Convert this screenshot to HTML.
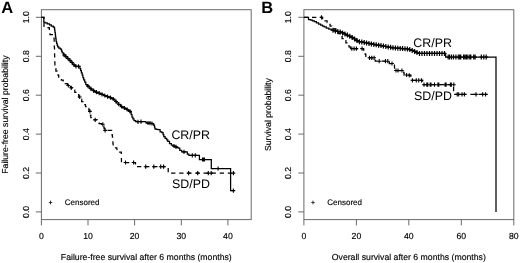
<!DOCTYPE html>
<html><head><meta charset="utf-8"><style>
html,body{margin:0;padding:0;background:#fff;width:520px;height:263px;overflow:hidden}
svg{display:block;will-change:transform}
text{font-family:"Liberation Sans",sans-serif;fill:#000;text-rendering:geometricPrecision}
.ax{font-size:8.7px;fill:#000;stroke:#000;stroke-width:0.15px}
.lb{font-size:12.4px}
.lg{font-size:8.0px;fill:#000;stroke:#000;stroke-width:0.15px}
.pl{font-size:16.5px;font-weight:bold}
</style></head><body>
<svg width="520" height="263" viewBox="0 0 520 263">
<rect x="41.4" y="9.7" width="209.8" height="209.9" fill="none" stroke="#6a6a6a" stroke-width="1.0"/>
<path d="M35.8 211.9H41.4" stroke="#6a6a6a" stroke-width="1.0"/>
<text transform="translate(28.9,211.9) rotate(-90)" text-anchor="middle" class="ax">0.0</text>
<path d="M35.8 173.0H41.4" stroke="#6a6a6a" stroke-width="1.0"/>
<text transform="translate(28.9,173.0) rotate(-90)" text-anchor="middle" class="ax">0.2</text>
<path d="M35.8 134.1H41.4" stroke="#6a6a6a" stroke-width="1.0"/>
<text transform="translate(28.9,134.1) rotate(-90)" text-anchor="middle" class="ax">0.4</text>
<path d="M35.8 95.2H41.4" stroke="#6a6a6a" stroke-width="1.0"/>
<text transform="translate(28.9,95.2) rotate(-90)" text-anchor="middle" class="ax">0.6</text>
<path d="M35.8 56.3H41.4" stroke="#6a6a6a" stroke-width="1.0"/>
<text transform="translate(28.9,56.3) rotate(-90)" text-anchor="middle" class="ax">0.8</text>
<path d="M35.8 17.3H41.4" stroke="#6a6a6a" stroke-width="1.0"/>
<text transform="translate(28.9,17.3) rotate(-90)" text-anchor="middle" class="ax">1.0</text>
<path d="M41.4 219.6V225.4" stroke="#6a6a6a" stroke-width="1.0"/>
<text x="41.4" y="238.9" text-anchor="middle" class="ax">0</text>
<path d="M88.0 219.6V225.4" stroke="#6a6a6a" stroke-width="1.0"/>
<text x="88.0" y="238.9" text-anchor="middle" class="ax">10</text>
<path d="M134.6 219.6V225.4" stroke="#6a6a6a" stroke-width="1.0"/>
<text x="134.6" y="238.9" text-anchor="middle" class="ax">20</text>
<path d="M181.3 219.6V225.4" stroke="#6a6a6a" stroke-width="1.0"/>
<text x="181.3" y="238.9" text-anchor="middle" class="ax">30</text>
<path d="M227.9 219.6V225.4" stroke="#6a6a6a" stroke-width="1.0"/>
<text x="227.9" y="238.9" text-anchor="middle" class="ax">40</text>
<text x="146.3" y="259.7" text-anchor="middle" class="ax">Failure-free survival after 6 months (months)</text>
<text transform="translate(8.3,114.6) rotate(-90)" text-anchor="middle" class="ax">Failure-free survival probability</text>
<text x="1.2" y="13.1" class="pl">A</text>
<polyline points="41.4,17.3 43.8,17.3 43.8,22.0 44.9,22.0 44.9,22.8 46.0,22.8 47.2,22.8 47.2,23.8 48.5,23.8 49.5,23.8 49.5,24.9 51.3,24.9 51.3,26.0 52.3,26.0 53.3,26.0 53.3,27.2 54.4,27.2 54.5,27.2 54.5,29.0 54.8,29.0 54.8,30.9 55.0,30.9 55.0,32.7 55.3,32.7 55.3,34.5 55.4,34.5 55.5,34.5 55.5,36.3 55.7,36.3 55.7,38.0 56.0,38.0 56.0,39.8 56.2,39.8 56.2,41.6 56.3,41.6 56.6,41.6 56.6,43.3 57.1,43.3 57.1,45.1 57.7,45.1 57.7,46.8 58.0,46.8 58.8,46.8 58.8,48.0 60.3,48.0 60.3,49.1 61.1,49.1 61.5,49.1 61.5,51.0 62.2,51.0 62.2,52.9 62.6,52.9 63.6,52.9 63.6,54.8 65.5,54.8 65.5,56.7 66.4,56.7 67.4,56.7 67.4,58.6 69.2,58.6 69.2,60.5 70.2,60.5 71.0,60.5 71.0,62.4 72.5,62.4 72.5,64.3 73.3,64.3 74.0,64.3 74.0,65.3 75.5,65.3 75.5,66.4 76.3,66.4 79.5,66.4 79.9,66.4 79.9,68.6 80.7,68.6 80.7,70.7 81.4,70.7 81.4,72.9 81.8,72.9 82.2,72.9 82.2,75.2 82.9,75.2 82.9,77.5 83.7,77.5 83.7,79.8 84.1,79.8 84.7,79.8 84.7,82.2 85.8,82.2 85.8,84.5 86.4,84.5 87.4,84.5 87.4,86.3 89.2,86.3 89.2,88.2 90.2,88.2 91.3,88.2 91.3,89.8 93.7,89.8 93.7,91.5 94.8,91.5 95.8,91.5 95.8,92.3 97.8,92.3 97.8,93.1 99.9,93.1 99.9,93.9 100.9,93.9 101.9,93.9 101.9,94.7 103.9,94.7 103.9,95.6 105.9,95.6 105.9,96.4 106.9,96.4 107.7,96.4 107.7,96.9 109.2,96.9 109.2,97.4 110.0,97.4 111.0,97.4 111.0,98.4 113.1,98.4 113.1,99.4 114.1,99.4 114.9,99.4 114.9,101.1 116.4,101.1 116.4,102.8 117.2,102.8 118.3,102.8 118.3,104.7 120.6,104.7 120.6,106.6 121.7,106.6 122.7,106.6 122.7,107.7 124.8,107.7 124.8,108.7 126.8,108.7 126.8,109.8 127.8,109.8 128.6,109.8 128.6,110.9 130.1,110.9 130.1,112.0 130.9,112.0 131.2,112.0 131.2,114.5 132.0,114.5 132.0,117.0 132.3,117.0 132.9,117.0 132.9,118.8 134.0,118.8 134.0,120.5 134.6,120.5 135.7,120.5 135.7,121.7 136.8,121.7 145.2,121.5 145.9,121.5 145.9,122.8 146.7,122.8 147.7,122.8 147.7,123.1 149.8,123.1 149.8,123.3 151.8,123.3 151.8,123.6 152.8,123.6 153.6,123.6 153.6,125.1 154.3,125.1 154.5,125.1 154.5,127.0 154.9,127.0 154.9,128.9 155.1,128.9 156.1,128.9 156.1,129.3 157.9,129.3 157.9,129.7 158.9,129.7 160.1,129.7 160.1,131.9 161.2,131.9 161.9,131.9 161.9,132.7 162.7,132.7 163.1,132.7 163.1,134.6 163.8,134.6 163.8,136.5 164.2,136.5 165.1,136.5 165.1,138.3 166.1,138.3 166.7,138.3 166.7,139.8 167.8,139.8 167.8,141.3 168.4,141.3 169.5,141.3 169.5,143.6 170.6,143.6 171.4,143.6 171.4,145.1 172.2,145.1 172.9,145.1 172.9,145.8 174.4,145.8 174.4,146.6 175.2,146.6 176.1,146.6 176.1,147.3 178.1,147.3 178.1,148.1 179.0,148.1 179.8,148.1 179.8,150.4 180.5,150.4 181.7,150.4 181.7,151.9 182.8,151.9 186.6,151.9 187.3,151.9 187.3,154.2 188.1,154.2 188.9,154.2 188.9,155.3 189.7,155.3 199.4,155.3 199.4,159.5 211.3,159.5 211.3,168.5 230.6,168.5 230.6,190.6 233.4,190.6" fill="none" stroke="#000" stroke-width="1.25" stroke-linejoin="miter"/>
<polyline points="41.4,17.3 44.0,17.3 44.0,27.5 48.6,27.7 49.3,27.7 49.3,29.4 50.0,29.4 50.0,34.5 53.8,34.5 54.2,40.0 54.2,40.0 54.2,42.0 54.3,42.0 54.3,44.1 54.3,44.1 54.3,46.1 54.4,46.1 54.4,48.1 54.5,48.1 54.5,50.2 54.5,50.2 54.5,52.2 54.6,52.2 54.6,54.2 54.6,54.2 54.6,56.3 54.7,56.3 54.7,58.3 54.7,58.3 54.7,60.4 54.8,60.4 54.8,62.4 54.9,62.4 54.9,64.4 54.9,64.4 54.9,66.5 55.0,66.5 55.0,68.5 55.0,68.5 55.9,68.5 55.9,71.1 56.8,71.1 57.2,71.1 57.2,73.1 58.0,73.1 58.0,75.2 58.7,75.2 58.7,77.2 59.1,77.2 59.9,77.2 59.9,78.7 61.4,78.7 61.4,80.2 62.2,80.2 63.2,80.2 63.2,82.0 65.2,82.0 65.2,83.7 67.3,83.7 67.3,85.5 68.3,85.5 69.0,85.5 69.0,86.7 70.5,86.7 70.5,87.8 71.3,87.8 72.5,87.8 72.5,90.1 74.8,90.1 74.8,92.4 75.9,92.4 76.9,92.4 76.9,94.7 78.8,94.7 78.8,97.0 79.7,97.0 80.3,97.0 80.3,99.2 81.7,99.2 81.7,101.5 82.3,101.5 82.9,101.5 82.9,103.0 84.0,103.0 84.0,104.6 84.6,104.6 85.5,104.6 85.5,106.5 87.5,106.5 87.5,108.4 88.4,108.4 88.8,108.4 88.8,109.9 89.5,109.9 89.5,111.4 89.9,111.4 90.1,111.4 90.1,113.3 90.4,113.3 90.4,115.2 90.6,115.2 90.8,115.2 90.8,117.5 91.2,117.5 91.2,119.8 91.4,119.8 97.3,119.8 97.8,122.8 99.0,122.8 99.0,123.5 101.5,123.5 101.5,124.3 102.8,124.3 103.2,124.3 103.2,126.2 103.9,126.2 103.9,128.1 104.3,128.1 104.7,128.1 104.7,130.4 105.1,130.4 111.5,130.4 111.7,130.4 111.7,132.7 112.1,132.7 112.1,135.0 112.3,135.0 112.4,135.0 112.4,137.0 112.6,137.0 112.6,139.0 112.7,139.0 112.7,141.0 112.9,141.0 112.9,143.0 113.0,143.0 113.4,147.8 116.8,147.8 117.2,152.0 121.3,152.0 121.5,162.5 135.5,162.5 135.5,166.7 168.2,166.7 168.2,173.1 233.4,173.1" fill="none" stroke="#000" stroke-width="1.25" stroke-dasharray="4.3 3.8"/>
<path d="M62.1 55.0h3.8M64.0 52.9v4.2M64.1 56.7h3.8M66.0 54.6v4.2M66.1 58.5h3.8M68.0 56.4v4.2M68.1 60.3h3.8M70.0 58.2v4.2M70.1 62.5h3.8M72.0 60.4v4.2M72.1 64.8h3.8M74.0 62.7v4.2M74.1 66.3h3.8M76.0 64.2v4.2M76.6 66.4h3.8M78.5 64.3v4.2M86.1 86.1h3.8M88.0 84.0v4.2M88.9 88.6h3.8M90.8 86.5v4.2M91.7 90.6h3.8M93.6 88.5v4.2M94.5 92.1h3.8M96.4 90.0v4.2M97.3 93.2h3.8M99.2 91.1v4.2M100.1 94.4h3.8M102.0 92.3v4.2M102.9 95.5h3.8M104.8 93.4v4.2M105.7 96.6h3.8M107.6 94.5v4.2M108.5 97.6h3.8M110.4 95.5v4.2M111.3 99.0h3.8M113.2 96.9v4.2M114.1 101.5h3.8M116.0 99.4v4.2M116.9 104.2h3.8M118.8 102.1v4.2M119.7 106.5h3.8M121.6 104.4v4.2M122.5 108.0h3.8M124.4 105.9v4.2M125.3 109.5h3.8M127.2 107.4v4.2M128.1 111.4h3.8M130.0 109.3v4.2M136.1 121.8h3.8M138.0 119.7v4.2M139.1 121.6h3.8M141.0 119.5v4.2M146.1 123.0h3.8M148.0 120.9v4.2M148.1 123.2h3.8M150.0 121.1v4.2M150.1 123.5h3.8M152.0 121.4v4.2M172.1 146.0h3.8M174.0 143.9v4.2M174.1 146.8h3.8M176.0 144.7v4.2M182.1 151.9h3.8M184.0 149.8v4.2M190.4 155.3h3.8M192.3 153.2v4.2M193.4 155.3h3.8M195.3 153.2v4.2M200.6 159.5h3.8M202.5 157.4v4.2M201.6 159.5h3.8M203.5 157.4v4.2M202.6 159.5h3.8M204.5 157.4v4.2M216.2 168.5h3.8M218.1 166.4v4.2M231.5 190.6h3.8M233.4 188.5v4.2" stroke="#000" stroke-width="1.1"/>
<path d="M66.4 85.5h3.8M68.3 83.4v4.2M69.4 87.8h3.8M71.3 85.7v4.2M77.8 97.0h3.8M79.7 94.9v4.2M88.0 111.4h3.8M89.9 109.3v4.2M93.3 119.8h3.8M95.2 117.7v4.2M100.9 124.3h3.8M102.8 122.2v4.2M103.2 130.4h3.8M105.1 128.3v4.2M123.6 162.5h3.8M125.5 160.4v4.2M131.7 162.5h3.8M133.6 160.4v4.2M143.8 166.7h3.8M145.7 164.6v4.2M151.9 166.7h3.8M153.8 164.6v4.2M158.8 166.7h3.8M160.7 164.6v4.2M161.7 166.7h3.8M163.6 164.6v4.2M186.7 173.1h3.8M188.6 171.0v4.2M195.8 173.1h3.8M197.7 171.0v4.2M206.4 173.1h3.8M208.3 171.0v4.2M209.3 173.1h3.8M211.2 171.0v4.2M231.5 173.1h3.8M233.4 171.0v4.2" stroke="#000" stroke-width="1.1"/>
<path d="M48.8 202.5h3.4M50.5 200.6v3.8" stroke="#222" stroke-width="0.9"/>
<text x="64.8" y="204.9" class="lg">Censored</text>
<text x="171.4" y="138.5" class="lb">CR/PR</text>
<text x="172.0" y="187.8" class="lb">SD/PD</text>
<rect x="303.9" y="9.7" width="209.9" height="209.9" fill="none" stroke="#6a6a6a" stroke-width="1.0"/>
<path d="M298.3 211.9H303.9" stroke="#6a6a6a" stroke-width="1.0"/>
<text transform="translate(291.4,211.9) rotate(-90)" text-anchor="middle" class="ax">0.0</text>
<path d="M298.3 173.0H303.9" stroke="#6a6a6a" stroke-width="1.0"/>
<text transform="translate(291.4,173.0) rotate(-90)" text-anchor="middle" class="ax">0.2</text>
<path d="M298.3 134.1H303.9" stroke="#6a6a6a" stroke-width="1.0"/>
<text transform="translate(291.4,134.1) rotate(-90)" text-anchor="middle" class="ax">0.4</text>
<path d="M298.3 95.2H303.9" stroke="#6a6a6a" stroke-width="1.0"/>
<text transform="translate(291.4,95.2) rotate(-90)" text-anchor="middle" class="ax">0.6</text>
<path d="M298.3 56.3H303.9" stroke="#6a6a6a" stroke-width="1.0"/>
<text transform="translate(291.4,56.3) rotate(-90)" text-anchor="middle" class="ax">0.8</text>
<path d="M298.3 17.3H303.9" stroke="#6a6a6a" stroke-width="1.0"/>
<text transform="translate(291.4,17.3) rotate(-90)" text-anchor="middle" class="ax">1.0</text>
<path d="M303.9 219.6V225.4" stroke="#6a6a6a" stroke-width="1.0"/>
<text x="303.9" y="238.9" text-anchor="middle" class="ax">0</text>
<path d="M356.4 219.6V225.4" stroke="#6a6a6a" stroke-width="1.0"/>
<text x="356.4" y="238.9" text-anchor="middle" class="ax">20</text>
<path d="M408.8 219.6V225.4" stroke="#6a6a6a" stroke-width="1.0"/>
<text x="408.8" y="238.9" text-anchor="middle" class="ax">40</text>
<path d="M461.3 219.6V225.4" stroke="#6a6a6a" stroke-width="1.0"/>
<text x="461.3" y="238.9" text-anchor="middle" class="ax">60</text>
<path d="M513.8 219.6V225.4" stroke="#6a6a6a" stroke-width="1.0"/>
<text x="513.8" y="238.9" text-anchor="middle" class="ax">80</text>
<text x="408.8" y="259.7" text-anchor="middle" class="ax">Overall survival after 6 months (months)</text>
<text transform="translate(270.8,114.6) rotate(-90)" text-anchor="middle" class="ax">Survival probability</text>
<text x="261.2" y="13.1" class="pl">B</text>
<polyline points="303.9,17.3 307.2,17.3 308.5,17.3 308.5,19.6 309.9,19.6 310.8,19.6 310.8,20.2 312.5,20.2 312.5,20.9 314.3,20.9 314.3,21.5 315.2,21.5 316.4,21.5 316.4,22.9 318.6,22.9 318.6,24.2 319.8,24.2 320.7,24.2 320.7,25.1 322.5,25.1 322.5,26.0 324.2,26.0 324.2,26.9 325.1,26.9 326.3,26.9 326.3,28.0 328.8,28.0 328.8,29.1 330.0,29.1 331.2,29.1 331.2,30.0 333.6,30.0 333.6,30.8 334.8,30.8 335.7,30.8 335.7,31.1 337.4,31.1 337.4,31.5 339.1,31.5 339.1,31.8 340.0,31.8 341.1,31.8 341.1,32.7 343.1,32.7 343.1,33.6 345.2,33.6 345.2,34.6 347.3,34.6 347.3,35.5 348.4,35.5 349.6,35.5 349.6,36.8 352.1,36.8 352.1,38.0 353.4,38.0 354.6,38.0 354.6,39.8 357.1,39.8 357.1,41.6 358.4,41.6 362.6,42.1 363.9,42.1 363.9,42.6 366.4,42.6 366.4,43.1 367.6,43.1 368.6,43.1 368.6,43.5 370.6,43.5 370.6,43.9 372.5,43.9 372.5,44.3 373.5,44.3 374.5,44.3 374.5,44.6 376.5,44.6 376.5,45.0 378.5,45.0 378.5,45.4 380.5,45.4 380.5,45.7 381.5,45.7 382.5,45.7 382.5,46.1 384.4,46.1 384.4,46.4 386.3,46.4 386.3,46.8 388.3,46.8 388.3,47.1 390.2,47.1 390.2,47.4 392.1,47.4 392.1,47.8 393.1,47.8 394.0,47.8 394.0,47.9 395.9,47.9 395.9,48.1 397.8,48.1 397.8,48.2 399.7,48.2 399.7,48.4 401.5,48.4 401.5,48.5 403.4,48.5 403.4,48.7 405.3,48.7 405.3,48.9 407.2,48.9 407.2,49.0 408.1,49.0 409.1,49.0 409.1,49.7 411.0,49.7 411.0,50.3 412.9,50.3 412.9,51.0 413.8,51.0 415.0,51.0 415.0,52.2 417.3,52.2 417.3,53.4 418.5,53.4 445.6,53.4 445.6,57.0 496.0,57.0 496.0,212.0" fill="none" stroke="#000" stroke-width="1.25" stroke-linejoin="miter"/>
<polyline points="303.9,17.3 321.0,17.3 322.2,17.3 322.2,18.5 323.5,18.5 324.9,18.5 324.9,20.9 326.4,20.9 327.1,20.9 327.1,22.6 328.6,22.6 328.6,24.3 330.1,24.3 330.1,26.0 330.8,26.0 331.8,26.0 331.8,27.4 333.8,27.4 333.8,28.9 334.8,28.9 335.9,28.9 335.9,31.2 338.2,31.2 338.2,33.5 339.3,33.5 339.8,33.5 339.8,35.0 340.7,35.0 340.7,36.5 341.2,36.5 342.1,36.5 342.1,38.5 344.1,38.5 344.1,40.5 345.0,40.5 345.9,40.5 345.9,42.8 347.5,42.8 347.5,45.0 348.4,45.0 349.0,45.0 349.0,46.8 350.3,46.8 350.3,48.6 350.9,48.6 363.3,48.6 363.6,48.6 363.6,50.2 364.4,50.2 364.4,51.9 364.7,51.9 365.1,51.9 365.1,54.1 365.8,54.1 365.8,56.3 366.1,56.3 366.1,57.8 375.2,57.8 375.2,61.2 389.3,61.2 389.3,63.5 394.4,63.5 394.6,70.5 403.5,70.5 403.7,70.5 403.7,72.8 404.1,72.8 404.1,75.2 404.3,75.2 410.8,75.2 411.2,80.3 422.5,80.3 422.5,84.7 453.6,84.7 453.6,94.4 487.5,94.4" fill="none" stroke="#000" stroke-width="1.25" stroke-dasharray="4.3 3.8"/>
<path d="M331.1 30.2h3.8M333.0 27.7v5.0M333.5 30.9h3.8M335.4 28.4v5.0M335.9 31.4h3.8M337.8 28.9v5.0M338.3 31.9h3.8M340.2 29.4v5.0M340.7 32.9h3.8M342.6 30.4v5.0M343.1 34.0h3.8M345.0 31.5v5.0M345.5 35.1h3.8M347.4 32.6v5.0M347.9 36.2h3.8M349.8 33.7v5.0M350.3 37.4h3.8M352.2 34.9v5.0M352.7 38.9h3.8M354.6 36.4v5.0M355.1 40.6h3.8M357.0 38.1v5.0M357.5 41.7h3.8M359.4 39.2v5.0M359.9 42.0h3.8M361.8 39.5v5.0M362.3 42.4h3.8M364.2 39.9v5.0M364.7 42.9h3.8M366.6 40.4v5.0M367.1 43.4h3.8M369.0 40.9v5.0M369.5 43.9h3.8M371.4 41.4v5.0M371.9 44.4h3.8M373.8 41.9v5.0M374.3 44.8h3.8M376.2 42.3v5.0M376.7 45.2h3.8M378.6 42.7v5.0M379.1 45.6h3.8M381.0 43.1v5.0M381.5 46.0h3.8M383.4 43.5v5.0M383.9 46.5h3.8M385.8 44.0v5.0M386.3 46.9h3.8M388.2 44.4v5.0M388.7 47.3h3.8M390.6 44.8v5.0M391.1 47.8h3.8M393.0 45.3v5.0M393.5 48.0h3.8M395.4 45.5v5.0M395.9 48.2h3.8M397.8 45.7v5.0M398.3 48.4h3.8M400.2 45.9v5.0M400.7 48.6h3.8M402.6 46.1v5.0M403.1 48.8h3.8M405.0 46.3v5.0M405.5 48.9h3.8M407.4 46.4v5.0M407.9 49.6h3.8M409.8 47.1v5.0M410.3 50.4h3.8M412.2 47.9v5.0M412.7 51.4h3.8M414.6 48.9v5.0M415.1 52.6h3.8M417.0 50.1v5.0M417.6 53.4h3.8M419.5 50.9v5.0M420.1 53.4h3.8M422.0 50.9v5.0M422.6 53.4h3.8M424.5 50.9v5.0M425.1 53.4h3.8M427.0 50.9v5.0M427.6 53.4h3.8M429.5 50.9v5.0M430.1 53.4h3.8M432.0 50.9v5.0M432.6 53.4h3.8M434.5 50.9v5.0M435.1 53.4h3.8M437.0 50.9v5.0M437.6 53.4h3.8M439.5 50.9v5.0M440.1 53.4h3.8M442.0 50.9v5.0M442.6 53.4h3.8M444.5 50.9v5.0M446.3 57.0h3.8M448.2 54.5v5.0M447.7 57.0h3.8M449.6 54.5v5.0M449.6 57.0h3.8M451.5 54.5v5.0M451.6 57.0h3.8M453.5 54.5v5.0M454.0 57.0h3.8M455.9 54.5v5.0M456.4 57.0h3.8M458.3 54.5v5.0M457.8 57.0h3.8M459.7 54.5v5.0M458.8 57.0h3.8M460.7 54.5v5.0M461.7 57.0h3.8M463.6 54.5v5.0M463.1 57.0h3.8M465.0 54.5v5.0M464.5 57.0h3.8M466.4 54.5v5.0M466.0 57.0h3.8M467.9 54.5v5.0M467.9 57.0h3.8M469.8 54.5v5.0M468.9 57.0h3.8M470.8 54.5v5.0M471.8 57.0h3.8M473.7 54.5v5.0M473.2 57.0h3.8M475.1 54.5v5.0M479.4 57.0h3.8M481.3 54.5v5.0M481.9 57.0h3.8M483.8 54.5v5.0M484.3 57.0h3.8M486.2 54.5v5.0" stroke="#000" stroke-width="1.2"/>
<path d="M319.6 17.3h3.8M321.5 15.2v4.2M349.9 48.6h3.8M351.8 46.5v4.2M352.2 48.6h3.8M354.1 46.5v4.2M354.5 48.6h3.8M356.4 46.5v4.2M360.2 48.6h3.8M362.1 46.5v4.2M367.6 57.8h3.8M369.5 55.7v4.2M369.9 57.8h3.8M371.8 55.7v4.2M372.2 57.8h3.8M374.1 55.7v4.2M377.3 61.2h3.8M379.2 59.1v4.2M383.6 61.2h3.8M385.5 59.1v4.2M385.9 61.2h3.8M387.8 59.1v4.2M390.1 63.5h3.8M392.0 61.4v4.2M394.1 70.5h3.8M396.0 68.4v4.2M396.1 70.5h3.8M398.0 68.4v4.2M400.0 70.5h3.8M401.9 68.4v4.2M404.7 75.0h3.8M406.6 72.9v4.2M407.4 75.3h3.8M409.3 73.2v4.2M410.5 80.3h3.8M412.4 78.2v4.2M414.4 80.3h3.8M416.3 78.2v4.2M416.8 80.3h3.8M418.7 78.2v4.2M419.6 80.3h3.8M421.5 78.2v4.2M422.1 84.7h3.8M424.0 82.6v4.2M424.9 84.7h3.8M426.8 82.6v4.2M425.9 84.7h3.8M427.8 82.6v4.2M428.3 84.7h3.8M430.2 82.6v4.2M429.1 84.7h3.8M431.0 82.6v4.2M432.6 84.7h3.8M434.5 82.6v4.2M436.0 84.7h3.8M437.9 82.6v4.2M436.9 84.7h3.8M438.8 82.6v4.2M443.2 84.7h3.8M445.1 82.6v4.2M444.2 84.7h3.8M446.1 82.6v4.2M448.5 84.7h3.8M450.4 82.6v4.2M449.4 84.7h3.8M451.3 82.6v4.2M451.9 84.7h3.8M453.8 82.6v4.2M455.3 94.4h3.8M457.2 92.3v4.2M456.8 94.4h3.8M458.7 92.3v4.2M460.1 94.4h3.8M462.0 92.3v4.2M462.5 94.4h3.8M464.4 92.3v4.2M474.1 94.4h3.8M476.0 92.3v4.2M480.8 94.4h3.8M482.7 92.3v4.2M483.7 94.4h3.8M485.6 92.3v4.2" stroke="#000" stroke-width="1.1"/>
<path d="M311.3 202.5h3.4M313.0 200.6v3.8" stroke="#222" stroke-width="0.9"/>
<text x="327.3" y="204.9" class="lg">Censored</text>
<text x="413.3" y="47.2" class="lb">CR/PR</text>
<text x="414.0" y="99.7" class="lb">SD/PD</text>
</svg>
</body></html>
